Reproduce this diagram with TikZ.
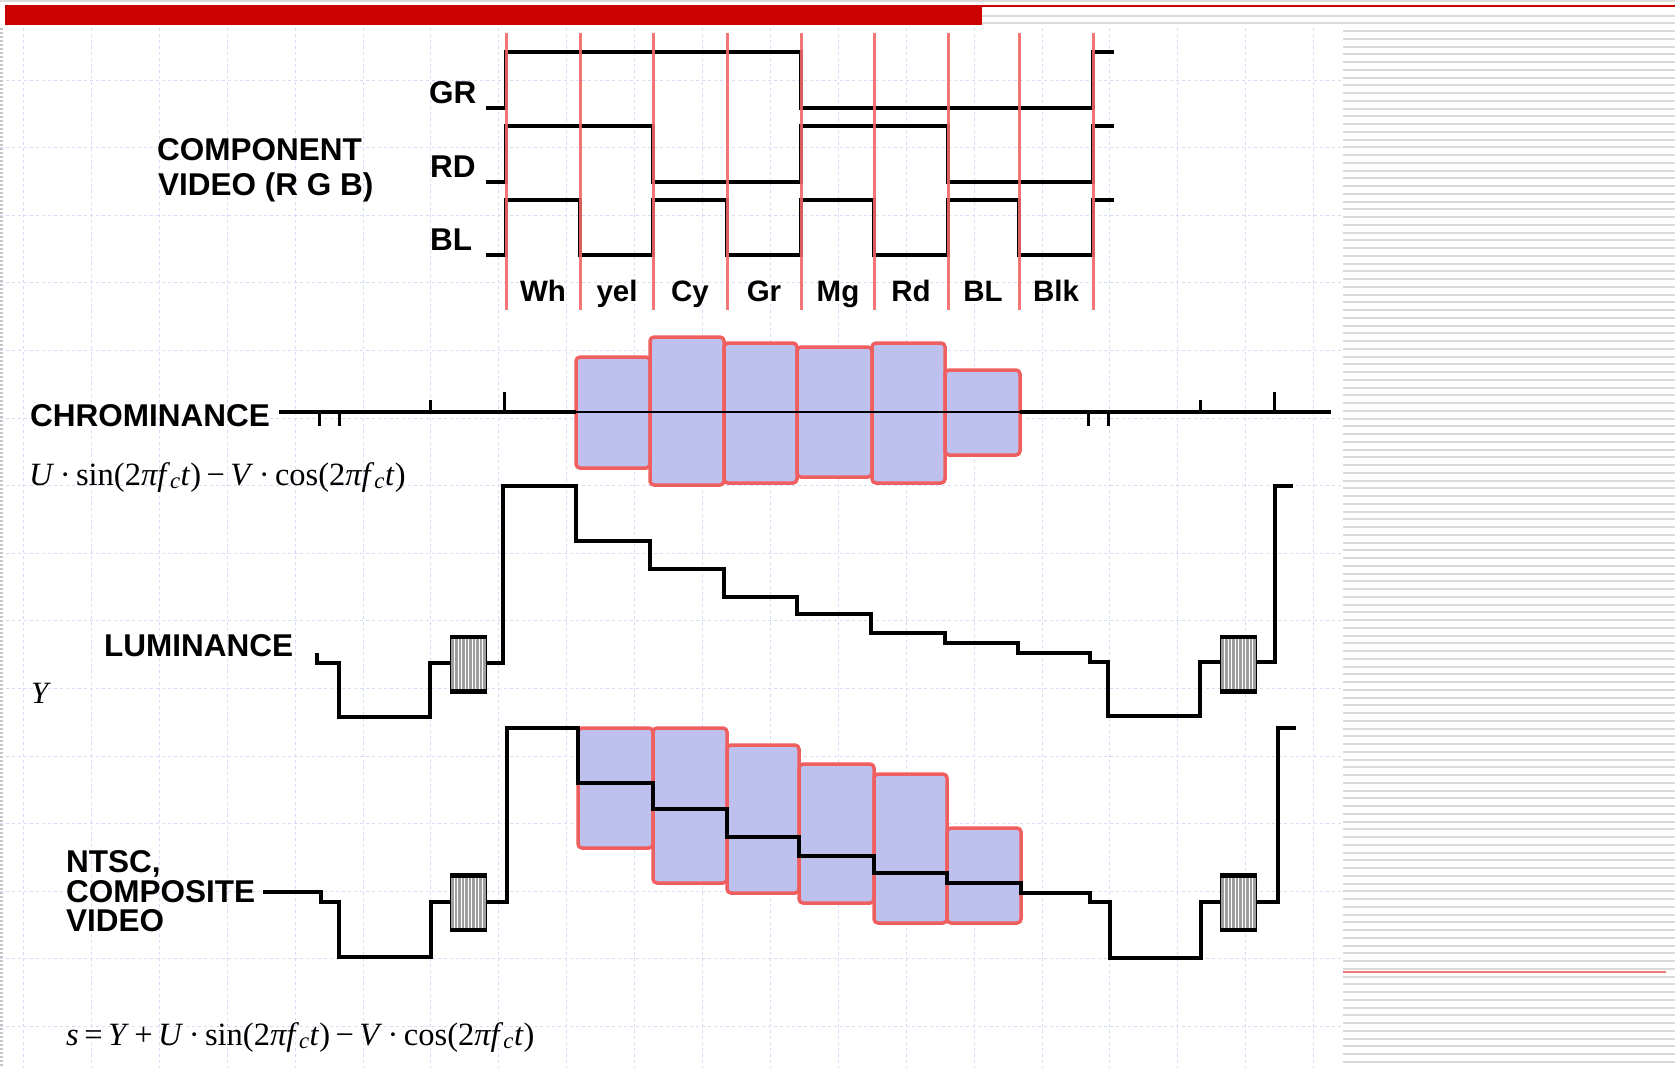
\documentclass[tikz,border=0pt]{standalone}
\usepackage{fontspec}
\setmainfont{Liberation Sans}
\newfontfamily\tmfont{Liberation Serif}
\newcommand\chromaexpr{\textit{U}\,·\,sin(2\textit{πf}\textsubscript{\textit{c}}\textit{t})\,−\,\textit{V}\,·\,cos(2\textit{πf}\textsubscript{\textit{c}}\textit{t})}
\definecolor{topred}{RGB}{204,0,0}
\definecolor{tred}{RGB}{240,105,105}
\definecolor{bfill}{RGB}{190,192,238}
\definecolor{bedge}{RGB}{240,95,95}
\definecolor{gridc}{RGB}{212,220,246}
\definecolor{stripec}{RGB}{218,218,218}
\begin{document}
\begin{tikzpicture}[x=1pt,y=-1pt,
  lab/.style={font=\fontsize{31.5}{31.5}\selectfont\bfseries, inner sep=0pt, anchor=base west},
  col/.style={font=\fontsize{29.5}{29.5}\selectfont\bfseries, inner sep=0pt, anchor=base},
  frm/.style={font=\fontsize{32.5}{32.5}\selectfont\tmfont, inner sep=0pt, anchor=base west},
  sig/.style={line width=3.5pt, black, line join=miter},
  tick/.style={line width=3pt, black},
  tline/.style={line width=3pt, tred, opacity=0.9},
  gridl/.style={line width=1pt, gridc, dash pattern=on 3pt off 3pt},
  stripe/.style={line width=2pt, stripec},
  blk/.style={fill=bfill, draw=bedge, line width=3.5pt, rounded corners=4pt},
  burst/.pic={
    \fill[gray!75] (-18,-29) rectangle (18,29);
    \foreach \i in {-14,-10.5,...,14} \draw[white, line width=1pt] (\i,-25) -- (\i,25);
    \draw[black, line width=1pt] (-18,-29) rectangle (18,29);
    \fill[black] (-18,-29) rectangle (18,-25);
    \fill[black] (-18,25) rectangle (18,29);
  }
]
\useasboundingbox (0,0) rectangle (1675,1068);
\fill[white] (0,0) rectangle (1675,1068);

% background grid
\foreach \k in {0,...,19} \draw[gridl] ({23.5+67.9*\k},28) -- ({23.5+67.9*\k},1068);
\foreach \k in {1,...,15} \draw[gridl] (0,{12.5+67.6*\k}) -- (1343,{12.5+67.6*\k});

% right striped panel
\foreach \k in {0,1} \draw[stripe] (982,{15.7+7.75*\k}) -- (1675,{15.7+7.75*\k});
\foreach \k in {2,...,135} \draw[stripe] (1343,{15.7+7.75*\k}) -- (1675,{15.7+7.75*\k});
\draw[line width=2pt, bedge!85] (1343,972) -- (1666,972);

% left edge strip
\draw[gray!45, line width=3pt, dash pattern=on 1.5pt off 2.5pt] (1.5,28) -- (1.5,1068);

% top bar
\draw[stripec, line width=2pt] (0,1) -- (1675,1);
\fill[topred] (5,5) rectangle (982,25);
\draw[topred, line width=2pt] (982,6) -- (1675,6);

% ---------- component video ----------
\node[lab] (comp1) at (157,160) {COMPONENT};
\node[lab] (comp2) at (158,195) {VIDEO (R G B)};
\node[lab] (gr) at (429,103) {GR};
\node[lab] (rd) at (430,177) {RD};
\node[lab] (bl) at (430,250) {BL};

\draw[sig] (486,108) -- (506,108) -- (506,52) -- (801,52) -- (801,108) -- (1093,108) -- (1093,52) -- (1114,52);
\draw[sig] (486,182) -- (506,182) -- (506,126) -- (653,126) -- (653,182) -- (801,182) -- (801,126) -- (948,126) -- (948,182) -- (1093,182) -- (1093,126) -- (1114,126);
\draw[sig] (486,255) -- (506,255) -- (506,200) -- (580,200) -- (580,255) -- (653,255) -- (653,200) -- (727,200) -- (727,255) -- (801,255) -- (801,200) -- (874,200) -- (874,255) -- (948,255) -- (948,200) -- (1019,200) -- (1019,255) -- (1093,255) -- (1093,200) -- (1114,200);

\foreach \x in {506,580,653,727,801,874,948,1019,1093} \draw[tline] (\x,33) -- (\x,310);

\node[col] (cWh) at (543,301) {Wh};
\node[col] (cYel) at (617,301) {yel};
\node[col] (cCy) at (690,301) {Cy};
\node[col] (cGr) at (764,301) {Gr};
\node[col] (cMg) at (838,301) {Mg};
\node[col] (cRd) at (911,301) {Rd};
\node[col] (cBL) at (983,301) {BL};
\node[col] (cBlk) at (1056,301) {Blk};

% ---------- chrominance ----------
\node[lab] (chroma) at (30,426) {CHROMINANCE};
\node[frm] (f1) at (29,485) {\chromaexpr};

\draw[blk] (576,357) rectangle (650,468);
\draw[blk] (650,337) rectangle (724,485);
\draw[blk] (724,343) rectangle (797,483);
\draw[blk] (797,347) rectangle (872,477);
\draw[blk] (872,343) rectangle (945,483);
\draw[blk] (945,370) rectangle (1020,455);

\draw[sig] (279,412) -- (576,412);
\draw[line width=2pt, black] (576,412) -- (1020,412);
\draw[sig] (1020,412) -- (1331,412);
\foreach \x in {319,339,1088,1108} \draw[tick] (\x,412) -- (\x,426);
\foreach \x in {430,1200} \draw[tick] (\x,412) -- (\x,400);
\foreach \x in {504,1274} \draw[tick] (\x,412) -- (\x,392);

% ---------- luminance ----------
\node[lab] (luma) at (104,656) {LUMINANCE};
\node[frm, font=\fontsize{31}{31}\selectfont\tmfont\itshape] (ylab) at (31,703) {Y};

\draw[sig] (317,653) -- (317,663) -- (339,663) -- (339,717) -- (430,717) -- (430,663) -- (451,663)
  (486,663) -- (503,663) -- (503,486) -- (576,486) -- (576,541) -- (650,541) -- (650,569) -- (724,569)
  -- (724,597) -- (797,597) -- (797,614) -- (871,614) -- (871,633) -- (945,633) -- (945,643) -- (1018,643)
  -- (1018,653) -- (1090,653) -- (1090,662) -- (1108,662) -- (1108,716) -- (1200,716) -- (1200,662) -- (1220,662)
  (1257,662) -- (1275,662) -- (1275,486) -- (1293,486);
\pic at (468.5,664) {burst};
\pic at (1238.5,664) {burst};

% ---------- composite ----------
\node[lab] (ntsc1) at (66,872) {NTSC,};
\node[lab] (ntsc2) at (66,902) {COMPOSITE};
\node[lab] (ntsc3) at (66,931) {VIDEO};
\node[frm] (f2) at (66,1045) {\textit{s}\,=\,\textit{Y}\,+\,\chromaexpr};

\draw[blk] (578,728) rectangle (653,848);
\draw[blk] (653,728) rectangle (727,883);
\draw[blk] (727,745) rectangle (799,893);
\draw[blk] (799,764) rectangle (874,903);
\draw[blk] (874,774) rectangle (947,923);
\draw[blk] (947,828) rectangle (1021,923);

\draw[sig] (263,892) -- (321,892) -- (321,902) -- (339,902) -- (339,957) -- (431,957) -- (431,902) -- (450,902)
  (486,902) -- (507,902) -- (507,728) -- (578,728) -- (578,783) -- (653,783) -- (653,809) -- (727,809)
  -- (727,837) -- (799,837) -- (799,856) -- (874,856) -- (874,873) -- (947,873) -- (947,883) -- (1021,883)
  -- (1021,893) -- (1090,893) -- (1090,902) -- (1110,902) -- (1110,958) -- (1201,958) -- (1201,902) -- (1220,902)
  (1257,902) -- (1278,902) -- (1278,728) -- (1296,728);
\pic at (468,902.5) {burst};
\pic at (1238.5,902.5) {burst};
\end{tikzpicture}
\end{document}
